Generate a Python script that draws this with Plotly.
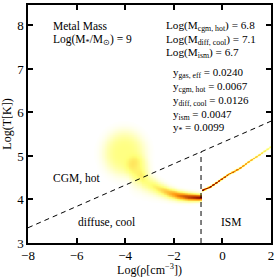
import numpy as np
import plotly.graph_objects as go

# ---- data ----
x_ticks = [-8, -6, -4, -2, 0, 2]
y_ticks = [3, 4, 5, 6, 7, 8]

# CGM branch ridge (log rho, log T, spread, relative mass)
cgm_x = [-3.4, -3.0, -2.6, -2.2, -1.8, -1.4, -1.0, -0.88]
cgm_T = [4.48, 4.35, 4.24, 4.15, 4.09, 4.06, 4.05, 4.05]
cgm_sig = [0.17, 0.14, 0.11, 0.09, 0.075, 0.065, 0.055, 0.05]
cgm_amp = [0.20, 0.23, 0.30, 0.40, 0.53, 0.64, 0.72, 0.75]

# hot CGM blob (centre x, centre T, spread x, spread T, mass)
blob_x = [-4.05, -3.5]
blob_T = [5.07, 4.72]
blob_sx = [0.70, 0.40]
blob_sT = [0.42, 0.24]
blob_amp = [0.22, 0.12]

# ISM branch
ism_x = [-0.88, -0.5, -0.1, 0.3, 0.7, 1.1, 1.5, 1.9, 2.0]
ism_T = [4.20, 4.30, 4.45, 4.60, 4.72, 4.88, 5.03, 5.18, 5.22]
ism_amp = [0.85, 0.78, 0.70, 0.62, 0.54, 0.45, 0.36, 0.25, 0.22]

# phase boundaries
split_x = [-8, 2]
split_T = [3.35, 5.80]
ism_rho = -0.88

labels_left = ["Metal Mass", "Log(M<sub>*</sub>/M<sub>⊙</sub>) = 9"]
labels_mass = ["Log(M<sub>cgm, hot</sub>) = 6.8",
               "Log(M<sub>diff, cool</sub>) = 7.1",
               "Log(M<sub>ism</sub>) = 6.7"]
labels_y = ["y<sub>gas, eff</sub> = 0.0240",
            "y<sub>cgm, hot</sub> = 0.0067",
            "y<sub>diff, cool</sub> = 0.0126",
            "y<sub>ism</sub> = 0.0047",
            "y<sub>*</sub> = 0.0099"]

# ---- build density field ----
gx = np.arange(-8, 2.001, 0.03)
gT = np.arange(3, 8.5, 0.015)
X, T = np.meshgrid(gx, gT)
Z = np.zeros_like(X)

for bx, bT, sx, sT, a in zip(blob_x, blob_T, blob_sx, blob_sT, blob_amp):
    r2 = ((X - bx) / sx) ** 2 + ((T - bT) / sT) ** 2
    Z += a * np.exp(-0.5 * r2 ** 1.8)

cT = np.interp(gx, cgm_x, cgm_T)
cs = np.interp(gx, cgm_x, cgm_sig)
ca = np.interp(gx, cgm_x, cgm_amp)
fade = np.clip((gx - (-3.9)) / 0.6, 0, 1)
mask = (gx <= ism_rho).astype(float)
Z += (ca * fade * mask)[None, :] * np.exp(-0.5 * ((T - cT[None, :]) / cs[None, :]) ** 2)

iT = np.interp(gx, ism_x, ism_T)
ia = np.interp(gx, ism_x, ism_amp)
imask = (gx >= ism_rho).astype(float)
Z += (ia * imask)[None, :] * np.exp(-0.5 * ((T - iT[None, :]) / 0.018) ** 2)

Z = np.where(Z < 0.004, np.nan, Z)

colorscale = [[0.0, "#ffffff"], [0.25, "#ffff78"], [0.5, "#ff9a10"],
              [0.75, "#a01800"], [1.0, "#400000"]]

fig = go.Figure()
fig.add_trace(go.Heatmap(x=gx, y=gT, z=Z, colorscale=colorscale, zmin=0, zmax=0.95,
                         showscale=False, zsmooth="best", hoverinfo="skip"))

# boundaries
fig.add_trace(go.Scatter(x=split_x, y=split_T, mode="lines",
                         line=dict(color="black", width=1, dash="5px,4px"),
                         hoverinfo="skip", showlegend=False))
T_at = np.interp(ism_rho, split_x, split_T)
fig.add_trace(go.Scatter(x=[ism_rho, ism_rho], y=[3, T_at], mode="lines",
                         line=dict(color="black", width=1, dash="5px,4px"),
                         hoverinfo="skip", showlegend=False))

font = "Liberation Serif"
L, R, TOP, BOT = 28, 271, 3, 244


def px2paper(px, py):
    return (px - L) / (R - L), (BOT - py) / (BOT - TOP)


ann = []


def add(text, px, py, anchor="left", size=11.5):
    x, y = px2paper(px, py)
    ann.append(dict(text=text, x=x, y=y, xref="paper", yref="paper",
                    xanchor=anchor, yanchor="middle", showarrow=False,
                    font=dict(family=font, size=size, color="black")))


for i, t in enumerate(labels_left):
    add(t, 51, 24 + 14 * i)
for i, t in enumerate(labels_mass):
    add(t, 164, 24 + 14 * i, size=11.2)
for i, t in enumerate(labels_y):
    add(t, 171, 72 + 14 * i, size=11)
add("CGM, hot", 51, 179)
add("diffuse, cool", 76, 223)
add("ISM", 231, 223, anchor="center")

fig.update_layout(
    width=277, height=277,
    margin=dict(l=L, r=277 - R, t=TOP, b=277 - BOT),
    paper_bgcolor="white", plot_bgcolor="white",
    showlegend=False, annotations=ann,
    font=dict(family=font, size=12, color="black"),
)
axis_common = dict(showgrid=False, zeroline=False, showline=True, linecolor="black",
                   linewidth=1.5, mirror="ticks", ticks="inside", ticklen=5,
                   tickwidth=1.5, tickcolor="black",
                   tickfont=dict(family=font, size=13, color="black"))
fig.update_xaxes(range=[-8, 2], tickvals=x_ticks,
                 title=dict(text="Log(ρ[cm<sup>−3</sup>])", standoff=2,
                            font=dict(family=font, size=12)), **axis_common)
fig.update_yaxes(range=[3, 8.47], tickvals=y_ticks,
                 title=dict(text="Log(T[K])", standoff=4,
                            font=dict(family=font, size=12)), **axis_common)

fig.write_html("out.html", config={"displayModeBar": False},
               post_script="document.body.style.margin='0';document.body.style.overflow='hidden';")
